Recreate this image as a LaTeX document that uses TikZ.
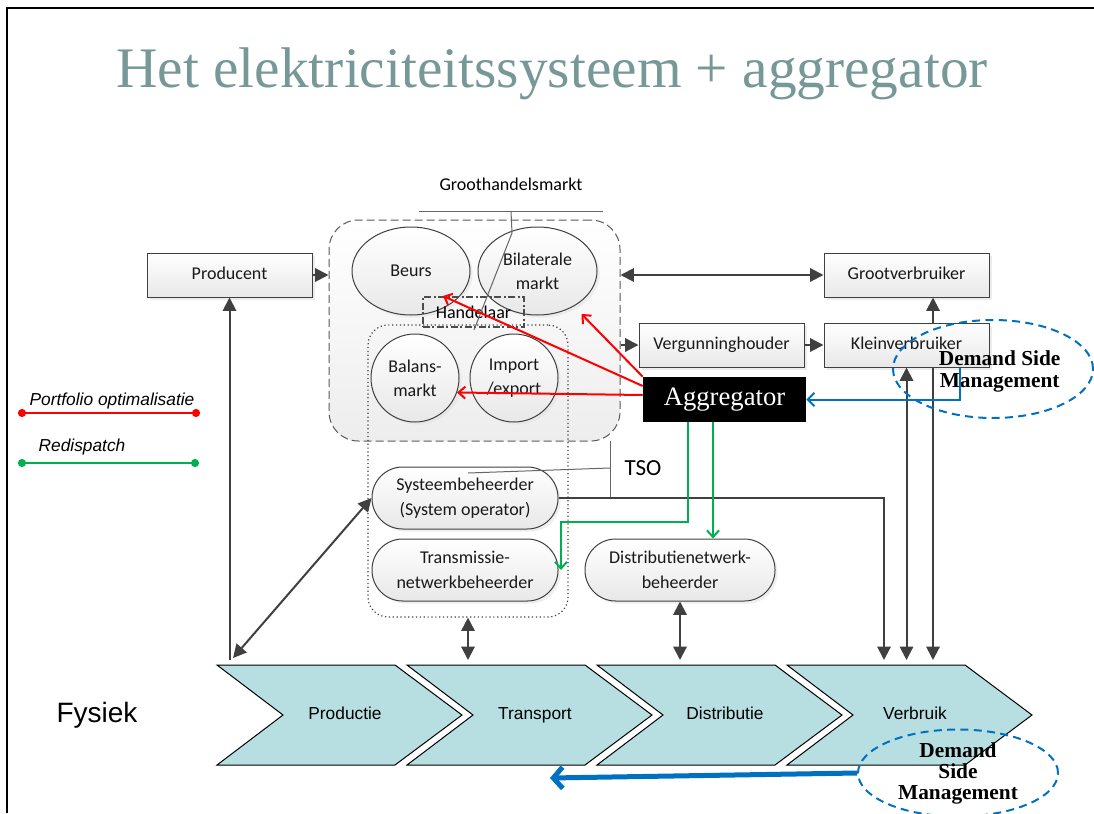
\documentclass[tikz,border=0pt]{standalone}
\usepackage{fontspec}
\setmainfont{Liberation Serif}
\newfontfamily\calibri{Carlito}
\newfontfamily\arial{Liberation Sans}
\usetikzlibrary{calc,arrows.meta,shapes.geometric,shadows}
\definecolor{titlegray}{RGB}{118,152,150}
\definecolor{chevfill}{RGB}{183,222,225}
\definecolor{pfred}{RGB}{255,0,0}
\definecolor{rdgreen}{RGB}{0,176,80}
\definecolor{dsmblue}{RGB}{0,112,192}
\definecolor{linegray}{RGB}{64,64,64}
\tikzset{
	actbox/.style={draw=linegray, line width=0.75pt, top color=white, bottom color=black!9,
		drop shadow={shadow xshift=2pt, shadow yshift=-2pt, fill=black!15},
		minimum width=123.75pt, minimum height=33pt, inner sep=0pt, text=black!90,
		text height=9.5pt, text depth=3pt,
		font=\calibri\fontsize{13.5}{18}\selectfont},
	bubble/.style={ellipse, draw=linegray, line width=0.75pt, top color=white, bottom color=black!9,
		drop shadow={shadow xshift=2pt, shadow yshift=-2pt, fill=black!12},
		inner sep=0pt, align=center, text=black!90, font=\calibri\fontsize{13.5}{18}\selectfont},
	stadium/.style={rectangle, rounded corners=23pt, draw=linegray, line width=0.75pt, top color=white, bottom color=black!9,
		drop shadow={shadow xshift=2pt, shadow yshift=-2pt, fill=black!12},
		minimum height=46.5pt, inner sep=0pt, align=center, text=black!90,
		font=\calibri\fontsize{13.5}{18.5}\selectfont},
	marktbox/.style={draw=black!65, line width=0.75pt, dash pattern=on 6pt off 3pt, rounded corners=22pt,
		top color=white, bottom color=black!7},
	tsobox/.style={draw=black!75, line width=0.9pt, dotted, rounded corners=15pt},
	darr/.style={draw=linegray, line width=1.5pt},
	thinline/.style={draw=black!60, line width=0.75pt},
	pfarr/.style={draw=pfred, line width=1.5pt, -{Straight Barb[length=5pt,width=9pt]}},
	rdarr/.style={draw=rdgreen, line width=1.5pt, -{Straight Barb[length=5pt,width=9pt]}},
	dsmarr/.style={draw=dsmblue, line width=1.5pt, -{Straight Barb[length=5pt,width=10pt]}},
	dsmring/.style={ellipse, draw=dsmblue, line width=1.5pt, dash pattern=on 6pt off 4pt, inner sep=0pt,
		align=center, font=\bfseries\fontsize{16}{16.5}\selectfont},
	chev/.style={draw=black, line width=0.75pt, fill=chevfill},
	chevlabel/.style={font=\arial\fontsize{13}{15}\selectfont, text height=9.5pt, text depth=2.5pt},
	legtext/.style={font=\arial\itshape\fontsize{13}{15}\selectfont},
	legline/.style={line width=1.5pt, {Circle[length=6pt]}-{Circle[length=6pt]}}
}
\begin{document}
\begin{tikzpicture}[x=0.75pt, y=-0.75pt, >={Triangle[width=10pt,length=10pt]}]
			%%%%% START %%%%%
			\useasboundingbox (0,0) rectangle (1094,813);
			\draw[line width=1.5pt] (7,813) -- (7,8) -- (1094,8);
			
			\node[anchor=base, text=titlegray, font=\fontsize{43}{50}\selectfont] (title) at (552,88) {Het elektriciteitssysteem + aggregator};
			
			% groothandelsmarkt
			\node[font=\calibri\fontsize{13.5}{16}\selectfont] (glabel) at (511,184) {Groothandelsmarkt};
			\node[marktbox, minimum width=218.25pt, minimum height=165.75pt] (markt) at (474.5,330.5) {};
			\node[bubble, minimum width=88.5pt, minimum height=66pt] (beurs) at (411,271) {Beurs};
			\node[bubble, minimum width=89.25pt, minimum height=66pt] (bilat) at (537.5,271) {Bilaterale\\markt};
			\node[tsobox, minimum width=150pt, minimum height=219pt] (tsobox) at (468,471) {};
			\node[draw=black!70, line width=0.9pt, dash pattern=on 5pt off 2pt on 1.5pt off 2pt, minimum width=75.75pt, minimum height=22.5pt, inner sep=0pt, font=\calibri\fontsize{13.5}{16}\selectfont] (handel) at (473.5,312) {Handelaar};
			\node[bubble, circle, minimum size=66pt] (balans) at (415,378) {Balans-\\markt};
			\node[bubble, circle, minimum size=66pt] (impexp) at (514,378) {Import\\/export};
			\coordinate (gl1) at (419,211);
			\coordinate (gl2) at (603,211);
			\coordinate (gl3) at (512,233);
			\coordinate (gl4) at (474,330);
			\draw[thinline] (gl1) -- (gl2);
			\draw[thinline] (gl1 -| glabel) -- (gl3) -- (gl4);
			
			% actoren
			\node[actbox] (prod) at (229.5,275) {Producent};
			\node[actbox] (groot) at (906.5,275) {Grootverbruiker};
			\node[actbox] (vergun) at (721.5,345) {Vergunninghouder};
			\node[actbox] (klein) at (906.5,345) {Kleinverbruiker};
			\node[fill=black, text=white, minimum width=122.25pt, minimum height=33.75pt, inner sep=0pt, font=\fontsize{20}{24}\selectfont] (aggr) at (724.5,399.5) {Aggregator};
			
			\node[stadium, minimum width=139.5pt] (sysop) at (465,498) {Systeembeheerder\\(System operator)};
			\node[stadium, minimum width=139.5pt] (transm) at (465,570) {Transmissie-\\netwerkbeheerder};
			\node[stadium, minimum width=142.5pt] (distr) at (680,570) {Distributienetwerk-\\beheerder};
			
			\node[font=\calibri\fontsize{17.25}{20}\selectfont] (tso) at (643,468) {TSO};
			\coordinate (tsoa) at (610,441);
			\coordinate (tsob) at (610,497);
			\coordinate (tsoc) at (468,473);
			\draw[thinline] (tsoa) -- (tsob);
			\draw[thinline] (tsoa |- tso) -- (tsoc);
			
			% fysiek
			\node[font=\arial\fontsize{21}{24}\selectfont] (fysiek) at (97,715) {Fysiek};
			\foreach \x/\lab/\nm in {217/Productie/productie, 407/Transport/transport, 597/Distributie/distributie, 787/Verbruik/verbruik}{
				\draw[chev] (\x,665) -- ++(178,0) -- ++(67,50) -- ++(-67,50) -- ++(-178,0) -- ++(66,-50) -- cycle;
				\node[chevlabel] (\nm) at (\x+128,715) {\lab};
			}
			\coordinate (chevtop) at (0,660);
			
			% pijlen
			\draw[darr,->] (prod.east) -- (prod.east -| markt.west);
			\draw[darr,<->] (groot.west -| markt.east) -- (groot.west);
			\draw[darr,->] (vergun.west -| markt.east) -- (vergun.west);
			\draw[darr,->] (vergun.east) -- (klein.west);
			\coordinate (k1) at ($(klein.north)+(26.5,0)$);
			\coordinate (k2) at ($(klein.south)+(26.5,0)$);
			\draw[darr,->] (k1) -- (k1 |- groot.south);
			\draw[darr,->] (k2) -- (k2 |- chevtop);
			\draw[darr,<->] (klein.south) -- (klein.south |- chevtop);
			\coordinate (s1) at (884,660);
			\draw[darr,->] (sysop.east) -| (s1);
			\draw[darr,->] (prod.south |- chevtop) -- (prod.south);
			\coordinate (p2) at (233,658);
			\draw[darr,<->] (sysop.west) -- (p2);
			\draw[darr,<->] (tsobox.south) -- (tsobox.south |- chevtop);
			\draw[darr,<->] (distr.south) -- (distr.south |- chevtop);
			
			% portfolio optimalisatie
			\draw[pfarr] (aggr.north west) -- ($(bilat.center)+(44,43)$);
			\draw[pfarr] ($(aggr.west)+(0,-13.5)$) -- ($(beurs.center)+(32,25)$);
			\draw[pfarr] ($(aggr.west)+(0,-4.5)$) -- (balans.-19);
			
			% redispatch
			\coordinate (g1) at ($(aggr.south)+(-36.5,0)$);
			\coordinate (g2) at ($(aggr.south)+(-11.5,0)$);
			\coordinate (gbend) at (561,522);
			\draw[rdarr] (g1) |- (gbend) -- (gbend |- transm.east);
			\draw[rdarr] (g2) -- (g2 |- distr.north);
			
			% demand side management
			\node[dsmring, minimum width=150pt, minimum height=73.5pt, text depth=0pt] (dsmtop) at (993,369) {\hspace*{10pt}Demand Side\\\hspace*{10pt}Management};
			\coordinate (b1) at ($(klein.south)+(53.5,0)$);
			\draw[dsmarr] (b1) |- (aggr.east);
			\node[dsmring, minimum width=150pt, minimum height=55.5pt, font=\bfseries\fontsize{16}{15.75}\selectfont] (dsmbot) at (958,773) {Demand\\Side\\Management};
			\coordinate (bend) at (550,778);
			\draw[draw=dsmblue, line width=3.75pt, -{Straight Barb[length=7pt,width=16pt]}] (dsmbot.west) -- (bend);
			
			% legenda
			\node[legtext] (pflab) at (112,401) {Portfolio optimalisatie};
			\coordinate (pf1) at (18,413);
			\coordinate (pf2) at (200,413);
			\draw[legline, pfred] (pf1) -- (pf2);
			\node[legtext] (rdlab) at (82,447) {Redispatch};
			\coordinate (rd1) at (18,463);
			\coordinate (rd2) at (199,463);
			\draw[legline, rdgreen] (rd1) -- (rd2);
			%%%%% END %%%%%
\end{tikzpicture}
\end{document}
